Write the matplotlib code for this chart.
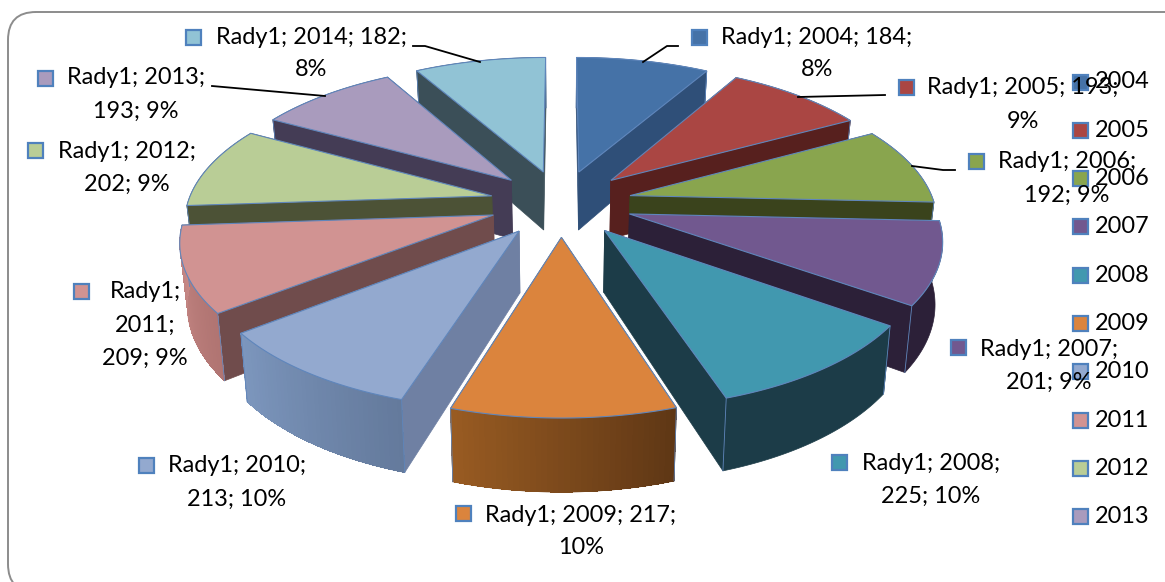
import numpy as np
import matplotlib
matplotlib.use('Agg')
import matplotlib.pyplot as plt
from matplotlib.colors import to_rgb
from matplotlib.patches import FancyBboxPatch, Polygon, Rectangle

years = [2004, 2005, 2006, 2007, 2008, 2009, 2010, 2011, 2012, 2013, 2014]
values = [184, 193, 192, 201, 225, 217, 213, 209, 202, 193, 182]
series_name = 'Rady1'

top_colors = ['#4572A7', '#AA4643', '#89A54E', '#71588F', '#4198AF', '#DB843D',
              '#93A9CF', '#D19392', '#B9CD96', '#A99BBD', '#91C3D5']
side_colors = ['#2F4F78', '#57201E', '#3A431C', '#2C2038', '#1C3C48', '#6A3F18',
               '#6F80A3', '#704C4C', '#4C5236', '#443C55', '#3B4F58']
wall_left = ['#2F4F78', '#57201E', '#3A431C', '#2C2038', '#1C3C48', '#985B22',
             '#7C96BD', '#C68885', '#4C5236', '#443C55', '#3B4F58']
wall_right = ['#2F4F78', '#57201E', '#3A431C', '#2C2038', '#1C3C48', '#5F3715',
              '#647A9C', '#B07472', '#4C5236', '#443C55', '#3B4F58']

# how each data label is broken into lines, its centre and its swatch
label_breaks = [[3], [3], [2], [2], [2], [3], [2], [1, 2], [2], [2], [3]]
label_x = [817, 1023, 1067, 1049, 931, 581, 237, 145, 127, 136, 311]
label_y = [37, 88, 162, 349, 463, 515, 466, 292, 151, 78, 37]
swatch_x = [699, 906, 976, 958, 839, 463, 146, 81, 35, 45, 193]
swatch_y = [37, 87, 161, 347, 462, 513, 465, 291, 150, 78, 37]

leaders = [[(678, 46), (667, 46), (643, 62)],
           [(885, 95), (798, 97)],
           [(955, 170), (943, 170), (912, 166)],
           [(212, 86), (325, 96)],
           [(413, 46), (425, 46), (480, 62)]]

legend_years = years[:10]

plt.rcParams['font.family'] = ['Lato', 'DejaVu Sans']
FONT = 16.9
LINE = 33

# look of the tilted pie
CX, CY = 561, 203
EXPLODE = 0.235
PERSP = 0.154
SCALE_X, SCALE_Y = 304, 141
DEPTH = 60
SHRINK = 0.98


def project(u, v, bottom=False):
    w = 1 + PERSP * v
    x = SCALE_X * u / w
    y = CY - SCALE_Y * v / w
    if bottom:
        x = x * SHRINK
        y = y + DEPTH / w
    return CX + x, y


fig = plt.figure(figsize=(11.65, 5.82), dpi=100)
ax = fig.add_axes([0, 0, 1, 1])
ax.set_xlim(0, 1165)
ax.set_ylim(582, 0)
ax.axis('off')

# the frame runs off the right and bottom of the picture
ax.add_patch(FancyBboxPatch((8, 12), 1300, 580, boxstyle='round,pad=0,rounding_size=28',
                            fc='white', ec='#8C8C8C', lw=1.4, clip_on=True))

total = sum(values)
edges = np.cumsum([0] + values) / total * 2 * np.pi
EDGE = '#5F86BC'

# back slices first, the front one last
order = [0, 10, 1, 9, 2, 8, 3, 7, 4, 6, 5]
for n, i in enumerate(order):
    a0, a1 = edges[i], edges[i + 1]
    mid = (a0 + a1) / 2
    u0 = EXPLODE * np.sin(mid)
    v0 = EXPLODE * np.cos(mid)
    angles = np.linspace(a0, a1, 41)
    us = u0 + np.sin(angles)
    vs = v0 + np.cos(angles)
    z = 3 + n * 3

    apex_t = project(u0, v0)
    apex_b = project(u0, v0, True)
    for k in (0, -1):
        t = project(us[k], vs[k])
        b = project(us[k], vs[k], True)
        ax.add_patch(Polygon([apex_t, t, b, apex_b], fc=side_colors[i], ec=side_colors[i],
                             lw=0.5, zorder=z))

    c0 = np.array(to_rgb(wall_left[i]))
    c1 = np.array(to_rgb(wall_right[i]))
    # whole wall underneath so that the strips show no seams
    outline = [project(a, b) for a, b in zip(us, vs)] + \
              [project(a, b, True) for a, b in zip(us[::-1], vs[::-1])]
    ax.add_patch(Polygon(outline, fc=(c0 + c1) / 2, ec=(c0 + c1) / 2, lw=0.5, zorder=z + 1))
    if wall_left[i] != wall_right[i]:
        # the front walls run right to left with the angle
        for k in range(len(angles) - 1):
            f = 1 - k / (len(angles) - 2)
            col = c0 + (c1 - c0) * f
            quad = [project(us[k], vs[k]), project(us[k + 1], vs[k + 1]),
                    project(us[k + 1], vs[k + 1], True), project(us[k], vs[k], True)]
            ax.add_patch(Polygon(quad, fc=col, ec='none', lw=0, antialiased=False, zorder=z + 1))

    for k in (0, -1):
        xa, ya = project(us[k], vs[k])
        xb, yb = project(us[k], vs[k], True)
        ax.plot([xa, xb], [ya, yb], color=EDGE, lw=0.6, zorder=z + 1.5)

    top = [apex_t] + [project(a, b) for a, b in zip(us, vs)]
    ax.add_patch(Polygon(top, fc=top_colors[i], ec=EDGE, lw=0.8, zorder=z + 2))

for pts in leaders:
    xs, ys = zip(*pts)
    ax.plot(xs, ys, color='black', lw=1.3, zorder=60)


def swatch(x, y, color):
    ax.add_patch(Rectangle((x - 7.5, y - 7.5), 15, 15, fc=color, ec='#4F81BD', lw=1.6, zorder=61))


for i, year in enumerate(years):
    pct = round(values[i] / total * 100)
    words = [series_name + ';', '%d;' % year, '%d;' % values[i], '%d%%' % pct]
    cuts = [0] + label_breaks[i] + [4]
    swatch(swatch_x[i], swatch_y[i], top_colors[i])
    for j in range(len(cuts) - 1):
        ax.text(label_x[i], label_y[i] + j * LINE, ' '.join(words[cuts[j]:cuts[j + 1]]),
                ha='center', va='center', fontsize=FONT, color='black', zorder=62)

for i, year in enumerate(legend_years):
    y = 82 + i * 48.3
    swatch(1080, y, top_colors[i])
    ax.text(1095, y, str(year), ha='left', va='center', fontsize=FONT, color='black', zorder=63)

fig.savefig('out.png', dpi=100)
